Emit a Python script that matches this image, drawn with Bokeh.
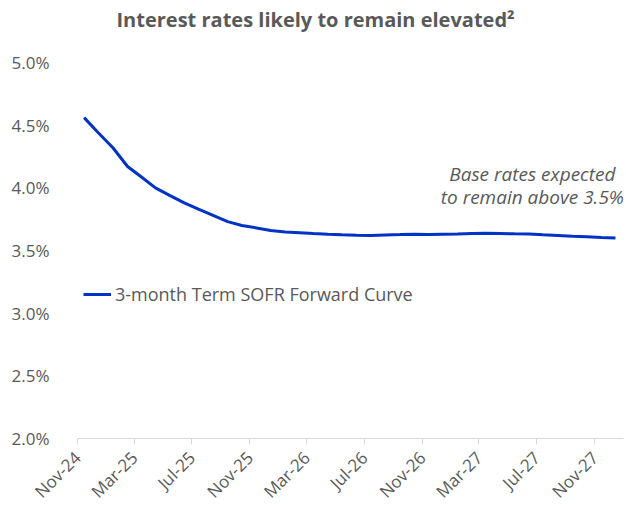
from datetime import datetime
import pandas as pd
from bokeh.plotting import figure
from bokeh.models import (Range1d, FixedTicker, DatetimeTickFormatter, PrintfTickFormatter,
                          Legend, LegendItem, Label, ColumnDataSource)
from bokeh.embed import file_html
from bokeh.resources import INLINE
import math

# ---- data ----
start_month = "2024-11-01"
sofr_forward = [4.56, 4.44, 4.32, 4.17, 4.09, 4.00, 3.94, 3.88, 3.83, 3.78,
                3.73, 3.70, 3.68, 3.66, 3.648, 3.642, 3.636, 3.63, 3.626, 3.622,
                3.62, 3.624, 3.627, 3.63, 3.628, 3.63, 3.632, 3.636, 3.638, 3.636,
                3.633, 3.632, 3.626, 3.62, 3.614, 3.61, 3.604, 3.60]
tick_dates = ["2024-11-01", "2025-03-01", "2025-07-01", "2025-11-01", "2026-03-01",
              "2026-07-01", "2026-11-01", "2027-03-01", "2027-07-01", "2027-11-01"]
y_ticks = [2.0, 2.5, 3.0, 3.5, 4.0, 4.5, 5.0]
series_name = "3-month Term SOFR Forward Curve"
title_text = "Interest rates likely to remain elevated\u00b2"
note_lines = ["Base rates expected", "to remain above 3.5%"]

dates = pd.date_range(start_month, periods=len(sofr_forward), freq="MS") + pd.Timedelta(days=14)
src = ColumnDataSource(dict(x=dates, y=sofr_forward))

GRAY = "#595959"
BLUE = "#0033c4"
FONT = "Open Sans"
X0 = datetime(2024, 11, 1)

# frame extends above 5.0% so the title can sit inside it
FRAME_H = 437
PX_PER_UNIT = 376 / 3.0
y_top = 2.0 + FRAME_H / PX_PER_UNIT

p = figure(frame_width=546, frame_height=FRAME_H, x_axis_type="datetime",
           x_range=Range1d(X0, datetime(2028, 1, 1)),
           y_range=Range1d(2.0, y_top),
           output_backend="svg", toolbar_location=None,
           min_border_left=77, min_border_top=1, min_border_right=1, min_border_bottom=0)
p.title = None
p.outline_line_color = None
p.xgrid.visible = False
p.ygrid.visible = False

r = p.line("x", "y", source=src, line_color=BLUE, line_width=3)

# title
p.add_layout(Label(x=X0, y=5.0, x_offset=39, y_offset=43, text=title_text,
                   text_align="left", text_baseline="middle", text_font=FONT,
                   text_font_size="20px", text_font_style="bold", text_color=GRAY))

# x axis
fmt = "%b-%y"
xa = p.below[0]
xa.ticker = FixedTicker(ticks=[pd.Timestamp(d).value / 1e6 for d in tick_dates], minor_ticks=[])
xa.formatter = DatetimeTickFormatter(days=fmt, months=fmt, years=fmt, hours=fmt,
                                     minutes=fmt, seconds=fmt, milliseconds=fmt,
                                     microseconds=fmt, minsec=fmt, hourmin=fmt)
xa.axis_line_color = "#d9d9d9"
xa.major_tick_line_color = "#d9d9d9"
xa.major_tick_out = 6
xa.major_tick_in = 0
xa.minor_tick_line_color = None
xa.major_label_orientation = math.pi / 4
xa.major_label_text_font = FONT
xa.major_label_text_font_size = "17px"
xa.major_label_text_color = GRAY
xa.major_label_standoff = 10

# y axis
ya = p.yaxis[0]
ya.ticker = FixedTicker(ticks=y_ticks, minor_ticks=[])
ya.formatter = PrintfTickFormatter(format="%.1f%%")
ya.axis_line_color = None
ya.major_tick_line_color = None
ya.minor_tick_line_color = None
ya.major_tick_out = 0
ya.major_tick_in = 0
ya.major_label_text_font = FONT
ya.major_label_text_font_size = "17px"
ya.major_label_text_color = GRAY
ya.major_label_standoff = 28

# legend
leg = Legend(items=[LegendItem(label=series_name, renderers=[r])],
             location=(6, 132), orientation="vertical")
leg.border_line_color = None
leg.background_fill_alpha = 0
leg.padding = 0
leg.margin = 0
leg.glyph_width = 28
leg.glyph_height = 20
leg.label_height = 20
leg.label_standoff = 4
leg.label_text_font = FONT
leg.label_text_font_size = "18px"
leg.label_text_color = GRAY
p.add_layout(leg, "center")

# annotation
note_y = [4.11, 3.93]
for txt, yy in zip(note_lines, note_y):
    p.add_layout(Label(x=datetime(2027, 6, 22), y=yy, text=txt, text_align="center",
                       text_baseline="middle", text_font=FONT, text_font_size="19px",
                       text_font_style="italic", text_color=GRAY))

open("out.html", "w").write(file_html(p, INLINE))
